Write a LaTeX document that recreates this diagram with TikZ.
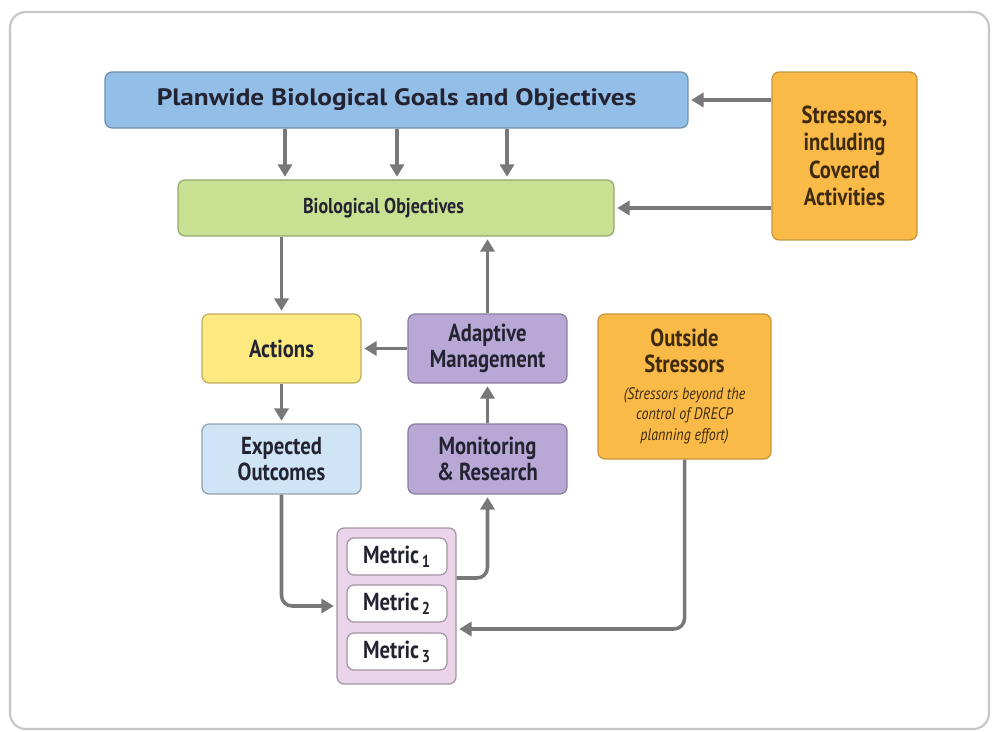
\documentclass[tikz,border=0pt]{standalone}
\usepackage{fontspec}
\setmainfont{PT Sans}[FakeStretch=0.84]
\newfontfamily\widefont{PT Sans}[FakeStretch=1.15]
\usepackage{tikz}
\usetikzlibrary{calc,arrows.meta}

\definecolor{planblue}{RGB}{147,190,231}
\definecolor{biogreen}{RGB}{199,224,145}
\definecolor{stressorange}{RGB}{250,186,72}
\definecolor{actyellow}{RGB}{252,234,128}
\definecolor{mgmtpurple}{RGB}{185,167,214}
\definecolor{outcomeblue}{RGB}{207,228,247}
\definecolor{metricpink}{RGB}{234,212,234}
\definecolor{arrgray}{RGB}{120,120,120}
\definecolor{txtdark}{RGB}{35,35,50}
\definecolor{txtbrown}{RGB}{62,42,15}

\newcommand{\noteline}[1]{{\mdseries\itshape\fontsize{9.5}{10}\selectfont #1}}

\tikzset{
  box/.style={rounded corners=4pt, line width=0.7pt, inner sep=2pt, align=center,
    font=\bfseries\fontsize{14}{14.5}\selectfont, text=txtdark},
  arr/.style={-{Triangle[length=7pt,width=8pt]}, line width=2pt, draw=arrgray, shorten >=1.5pt}
}

\begin{document}
\begin{tikzpicture}[x=0.02cm,y=-0.02cm]
            \useasboundingbox (0,0) rectangle (997,732);
            \draw [rounded corners=9pt, draw=gray!45, line width=1.2pt, fill=white] (10,12) rectangle (989,729);

            \node [box, fill=planblue, draw=planblue!75!black, minimum width=11.66cm, minimum height=1.12cm,
                   font=\widefont\bfseries\fontsize{13.5}{16}\selectfont] (plan) at (396.5,100) {Planwide Biological Goals and Objectives};
            \node [box, fill=stressorange, draw=stressorange!80!black, text=txtbrown, minimum width=2.9cm, minimum height=3.36cm,
                   font=\bfseries\fontsize{14}{15.5}\selectfont] (stress) at (844.5,156) {Stressors,\\including\\Covered\\Activities};
            \node [box, fill=biogreen, draw=biogreen!75!black, minimum width=8.72cm, minimum height=1.12cm,
                   font=\bfseries\fontsize{12.2}{14}\selectfont] (bio) at (396,208) {Biological Objectives\hspace*{0.5cm}};
            \node [box, fill=actyellow, draw=actyellow!75!black, minimum width=3.18cm, minimum height=1.38cm] (act) at (281.5,348.5) {Actions};
            \node [box, fill=mgmtpurple, draw=mgmtpurple!75!black, minimum width=3.18cm, minimum height=1.38cm] (adapt) at (487.5,348.5) {Adaptive\\Management};
            \node [box, fill=stressorange, draw=stressorange!80!black, text=txtbrown, minimum width=3.46cm, minimum height=2.9cm] (outside) at (684.5,386.5)
                  {Outside\\Stressors\\[1pt]\noteline{(Stressors beyond the}\\[-3pt]\noteline{control of DRECP}\\[-3pt]\noteline{planning effort)}};
            \node [box, fill=outcomeblue, draw=outcomeblue!70!black, minimum width=3.18cm, minimum height=1.4cm] (expect) at (281.5,459) {Expected\\Outcomes};
            \node [box, fill=mgmtpurple, draw=mgmtpurple!75!black, minimum width=3.18cm, minimum height=1.4cm] (monit) at (487.5,459) {Monitoring\\\& Research};

            \node [box, fill=metricpink, draw=metricpink!70!black, minimum width=2.38cm, minimum height=3.12cm] (metrics) at (396.5,606) {};
            \node [box, fill=white, draw=metricpink!70!black, minimum width=2.0cm, minimum height=0.74cm] (m1) at (397,556.5) {Metric\textsubscript{\,1}};
            \node [box, fill=white, draw=metricpink!70!black, minimum width=2.0cm, minimum height=0.74cm] (m2) at (397,603.5) {Metric\textsubscript{\,2}};
            \node [box, fill=white, draw=metricpink!70!black, minimum width=2.0cm, minimum height=0.74cm] (m3) at (397,651.5) {Metric\textsubscript{\,3}};

            \draw [arr] (plan.south -| 285,0) -- (bio.north -| 285,0);
            \draw [arr] (plan.south -| 397,0) -- (bio.north -| 397,0);
            \draw [arr] (plan.south -| 507,0) -- (bio.north -| 507,0);
            \draw [arr] (stress.west |- plan.east) -- (plan.east);
            \draw [arr] (stress.west |- bio.east) -- (bio.east);
            \draw [arr] (bio.south -| act.north) -- (act.north);
            \draw [arr] (adapt.west) -- (act.east);
            \draw [arr] (adapt.north) -- (adapt.north |- bio.south);
            \draw [arr] (act.south) -- (expect.north);
            \draw [arr] (monit.north) -- (adapt.south);
            \draw [arr, rounded corners=6pt] (expect.south) |- (metrics.west);
            \draw [arr, rounded corners=6pt] (metrics.east |- 0,578) -| (monit.south);
            \draw [arr, rounded corners=6pt] (outside.south) |- (metrics.east |- 0,629);
        \end{tikzpicture}
\end{document}
